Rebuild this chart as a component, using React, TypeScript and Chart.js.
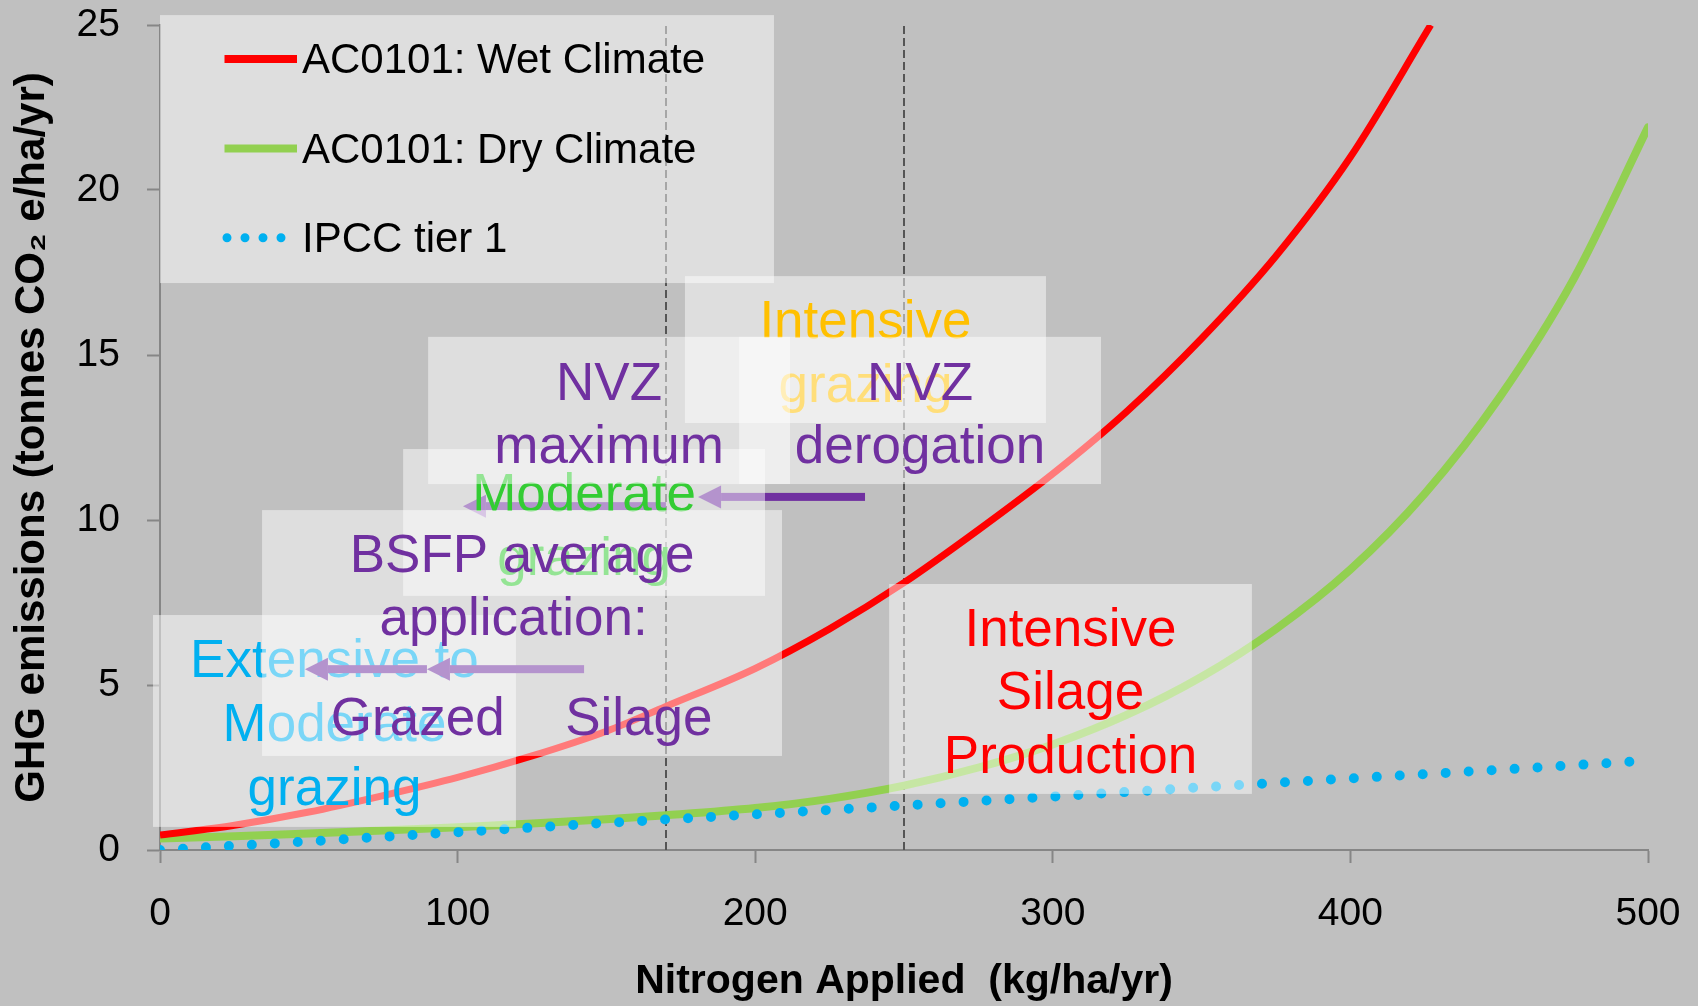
import React, { useEffect, useRef } from "react";
import { Chart, registerables } from "chart.js";

Chart.register(...registerables);

// ---------- data ----------
const wetNitrogen = [0, 25, 50, 75, 100, 125, 150, 170, 200, 225, 250, 275, 300, 325, 350, 375, 400, 427];
const wetClimate = [0.45, 0.75, 1.15, 1.65, 2.2, 2.85, 3.6, 4.35, 5.5, 6.7, 8.1, 9.7, 11.4, 13.3, 15.5, 18.0, 21.0, 25.0];

const dryNitrogen = [0, 25, 50, 75, 100, 125, 150, 170, 200, 225, 250, 275, 300, 325, 350, 375, 400, 425, 450, 475, 500];
const dryClimate = [0.35, 0.42, 0.5, 0.59, 0.69, 0.8, 0.93, 1.05, 1.27, 1.55, 1.95, 2.5, 3.2, 4.1, 5.25, 6.7, 8.5, 10.8, 13.7, 17.3, 21.9];

const ipccNitrogen = [0, 50, 100, 150, 200, 250, 300, 350, 400, 450, 495];
const ipccTier1 = [0, 0.26, 0.54, 0.82, 1.08, 1.35, 1.62, 1.9, 2.17, 2.43, 2.68];

const seriesLabels = ["AC0101: Wet Climate", "AC0101: Dry Climate", "IPCC tier 1"];
const thresholds = [170, 250];

const xTitle = "Nitrogen Applied  (kg/ha/yr)";
const yTitle = "GHG emissions (tonnes CO\u2082 e/ha/yr)";

// ---------- annotation layout (data units) ----------
const PURPLE = "#7030a0";
const ORANGE = "#ffc000";
const GREEN_TXT = "#33cc33";
const CYAN = "#00b0f0";
const RED = "#ff0000";

type TextLine = { text: string; dy: number; x?: number };
type Layer =
  | { kind: "legend"; x0: number; x1: number; y0: number; y1: number }
  | { kind: "box"; x0: number; x1: number; y0: number; y1: number; color: string; lines: TextLine[] }
  | { kind: "arrow"; from: number; to: number; y: number };

const layers: Layer[] = [
  { kind: "legend", x0: 0, x1: 206.3, y0: 17.18, y1: 25.3 },
  {
    kind: "box", x0: 176.4, x1: 297.7, y0: 12.94, y1: 17.39, color: ORANGE,
    lines: [{ text: "Intensive", dy: 62 }, { text: "grazing", dy: 126 }],
  },
  { kind: "arrow", from: 236.9, to: 180.8, y: 10.7 },
  { kind: "arrow", from: 170, to: 101.8, y: 10.42 },
  {
    kind: "box", x0: 81.7, x1: 203.3, y0: 7.7, y1: 12.15, color: GREEN_TXT,
    lines: [{ text: "Moderate", dy: 62 }, { text: "grazing", dy: 126 }],
  },
  {
    kind: "box", x0: 90.1, x1: 211.7, y0: 11.09, y1: 15.55, color: PURPLE,
    lines: [{ text: "NVZ", dy: 63 }, { text: "maximum", dy: 126 }],
  },
  {
    kind: "box", x0: 194.6, x1: 316.2, y0: 11.09, y1: 15.55, color: PURPLE,
    lines: [{ text: "NVZ", dy: 63 }, { text: "derogation", dy: 126 }],
  },
  {
    kind: "box", x0: -2.35, x1: 119.6, y0: 0.7, y1: 7.12, color: CYAN,
    lines: [{ text: "Extensive to", dy: 62 }, { text: "Moderate", dy: 126 }, { text: "grazing", dy: 190 }],
  },
  { kind: "arrow", from: 142.5, to: 89.7, y: 5.48 },
  { kind: "arrow", from: 89.7, to: 48.7, y: 5.48 },
  {
    kind: "box", x0: 34.3, x1: 209.0, y0: 2.85, y1: 10.3, color: PURPLE,
    lines: [
      { text: "BSFP average", dy: 62 },
      { text: "application:", dy: 125, x: 118.8 },
      { text: "Grazed", dy: 225, x: 86.6 },
      { text: "Silage", dy: 225, x: 160.9 },
    ],
  },
  {
    kind: "box", x0: 245.0, x1: 366.9, y0: 1.7, y1: 8.06, color: RED,
    lines: [{ text: "Intensive", dy: 62 }, { text: "Silage", dy: 125 }, { text: "Production", dy: 189 }],
  },
];

const FAMILY = '"Liberation Sans", Arial, Helvetica, sans-serif';
const BOX_FILL = "rgba(255,255,255,0.48)";
const AXIS_GREY = "#868686";

const overlayPlugin = {
  id: "overlay",
  beforeDatasetsDraw(chart: any) {
    const { ctx, scales } = chart;
    const xs = scales.x;
    const ys = scales.y;
    ctx.save();
    ctx.strokeStyle = "#555555";
    ctx.lineWidth = 2;
    ctx.setLineDash([8, 4]);
    thresholds.forEach((t) => {
      const px = Math.round(xs.getPixelForValue(t));
      ctx.beginPath();
      ctx.moveTo(px, ys.getPixelForValue(0));
      ctx.lineTo(px, ys.getPixelForValue(25));
      ctx.stroke();
    });
    ctx.restore();
  },
  afterDatasetsDraw(chart: any) {
    const { ctx, scales } = chart;
    const xs = scales.x;
    const ys = scales.y;
    const X = (v: number) => xs.getPixelForValue(v);
    const Y = (v: number) => ys.getPixelForValue(v);

    layers.forEach((layer) => {
      ctx.save();
      if (layer.kind === "legend") {
        const l = X(layer.x0), r = X(layer.x1), t = Y(layer.y1), b = Y(layer.y0);
        ctx.fillStyle = BOX_FILL;
        ctx.fillRect(l, t, r - l, b - t);
        const rowY = [44, 133.5, 222.7];
        chart.data.datasets.forEach((ds: any, i: number) => {
          const y = t + rowY[i];
          ctx.beginPath();
          ctx.strokeStyle = ds.borderColor;
          if (ds.borderDash && ds.borderDash.length) {
            ctx.lineWidth = 9;
            ctx.lineCap = "round";
            ctx.setLineDash([0, 18]);
            ctx.moveTo(l + 67, y);
            ctx.lineTo(l + 122, y);
          } else {
            ctx.lineWidth = 8;
            ctx.lineCap = "butt";
            ctx.setLineDash([]);
            ctx.moveTo(l + 64.5, y);
            ctx.lineTo(l + 137, y);
          }
          ctx.stroke();
          ctx.setLineDash([]);
          ctx.fillStyle = "#000000";
          ctx.font = `42px ${FAMILY}`;
          ctx.textAlign = "left";
          ctx.textBaseline = "alphabetic";
          ctx.fillText(ds.label, l + 142, y + 14);
        });
      } else if (layer.kind === "box") {
        const l = X(layer.x0), r = X(layer.x1), t = Y(layer.y1), b = Y(layer.y0);
        ctx.fillStyle = BOX_FILL;
        ctx.fillRect(l, t, r - l, b - t);
        ctx.fillStyle = layer.color;
        ctx.font = `53px ${FAMILY}`;
        ctx.textAlign = "center";
        ctx.textBaseline = "alphabetic";
        const cx = (l + r) / 2;
        layer.lines.forEach((ln) => {
          const x = ln.x !== undefined ? X(ln.x) : cx;
          ctx.fillText(ln.text, x, t + ln.dy);
        });
      } else if (layer.kind === "arrow") {
        const x0 = X(layer.from), x1 = X(layer.to), y = Y(layer.y);
        const dir = x1 < x0 ? -1 : 1;
        const headLen = 23;
        const headHalf = 11.5;
        ctx.fillStyle = PURPLE;
        ctx.fillRect(Math.min(x0, x1 - dir * headLen), y - 4, Math.abs(x1 - dir * headLen - x0), 8);
        ctx.beginPath();
        ctx.moveTo(x1, y);
        ctx.lineTo(x1 - dir * headLen, y - headHalf);
        ctx.lineTo(x1 - dir * headLen, y + headHalf);
        ctx.closePath();
        ctx.fill();
      }
      ctx.restore();
    });
  },
};

export default function App() {
  const canvasRef = useRef<HTMLCanvasElement | null>(null);

  useEffect(() => {
    document.body.style.margin = "0";
    const canvas = canvasRef.current;
    if (!canvas) return;

    const tickFont = { family: FAMILY, size: 39 };
    const chart = new Chart(canvas, {
      type: "line",
      data: {
        datasets: [
          {
            label: seriesLabels[0],
            data: wetNitrogen.map((x, i) => ({ x, y: wetClimate[i] })),
            borderColor: RED,
            borderWidth: 7,
            pointRadius: 0,
            cubicInterpolationMode: "monotone",
            borderCapStyle: "butt",
            order: 1,
          },
          {
            label: seriesLabels[1],
            data: dryNitrogen.map((x, i) => ({ x, y: dryClimate[i] })),
            borderColor: "#92d050",
            borderWidth: 8,
            pointRadius: 0,
            cubicInterpolationMode: "monotone",
            borderCapStyle: "round",
            order: 2,
          },
          {
            label: seriesLabels[2],
            data: ipccNitrogen.map((x, i) => ({ x, y: ipccTier1[i] })),
            borderColor: CYAN,
            borderWidth: 10,
            borderDash: [0, 23],
            borderCapStyle: "round",
            pointRadius: 0,
            tension: 0,
            order: 0,
          },
        ],
      } as any,
      options: {
        animation: false,
        responsive: false,
        devicePixelRatio: 1,
        layout: { padding: { left: 0, top: 25, right: 50, bottom: 0 } },
        plugins: { legend: { display: false }, tooltip: { enabled: false } },
        scales: {
          x: {
            type: "linear",
            min: 0,
            max: 500,
            ticks: { stepSize: 100, font: tickFont, color: "#000000", padding: 28, maxRotation: 0 },
            grid: { drawOnChartArea: false, drawTicks: true, tickLength: 13, tickColor: AXIS_GREY, tickWidth: 2 },
            border: { display: true, color: AXIS_GREY, width: 2 },
            title: {
              display: true,
              text: xTitle,
              color: "#000000",
              font: { family: FAMILY, size: 41, weight: "bold" },
              padding: { top: 0, bottom: 0 },
            },
            afterFit: (s: any) => {
              s.height = 156;
              s.paddingLeft = 0;
              s.paddingRight = 0;
              s.paddingTop = 0;
              s.paddingBottom = 0;
            },
          },
          y: {
            type: "linear",
            min: 0,
            max: 25,
            ticks: { stepSize: 5, font: tickFont, color: "#000000", padding: 27 },
            grid: { drawOnChartArea: false, drawTicks: true, tickLength: 13, tickColor: AXIS_GREY, tickWidth: 2 },
            border: { display: true, color: AXIS_GREY, width: 2 },
            title: {
              display: true,
              text: yTitle,
              color: "#000000",
              font: { family: FAMILY, size: 42, weight: "bold" },
              padding: { top: 7, bottom: 0 },
            },
            afterFit: (s: any) => {
              s.width = 160;
              s.paddingLeft = 0;
              s.paddingRight = 0;
              s.paddingTop = 0;
              s.paddingBottom = 0;
            },
          },
        },
      } as any,
      plugins: [overlayPlugin],
    });
    return () => chart.destroy();
  }, []);

  return (
    <div
      style={{
        position: "fixed",
        left: 0,
        top: 0,
        width: 1698,
        height: 1006,
        background: "#c0c0c0",
      }}
    >
      <canvas ref={canvasRef} width={1698} height={1006} style={{ display: "block" }} />
    </div>
  );
}
